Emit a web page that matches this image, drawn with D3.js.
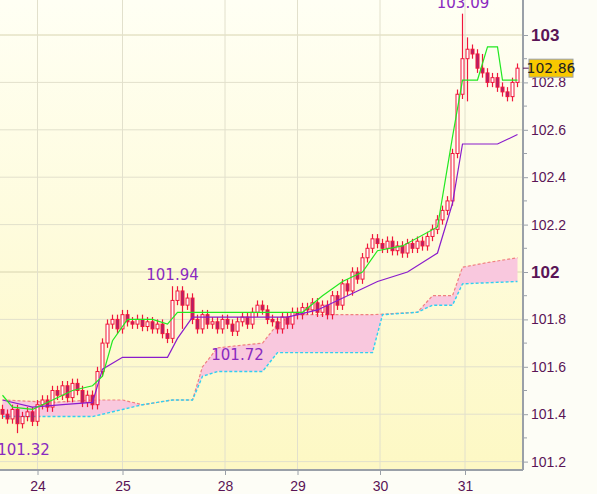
<!DOCTYPE html>
<html><head><meta charset="utf-8">
<script src="https://cdn.jsdelivr.net/npm/d3@7"></script>
<style>body{margin:0;background:#fff}svg{display:block;font-family:"DejaVu Sans",sans-serif}</style>
</head><body><svg id="c" width="597" height="494"></svg>
<script>
// closing prices, one per candle (open = previous close)
const closes = [101.40,101.38,101.42,101.36,101.39,101.41,101.37,
  101.44,101.46,101.43,101.50,101.48,101.52,101.47,101.53,101.50,101.45,101.48,
  101.44,101.58,101.70,101.78,
  101.80,101.76,101.82,101.79,101.78,101.80,101.77,101.79,101.76,101.78,101.74,101.72,
  101.88,101.92,101.86,101.89,
  101.80,101.76,101.82,101.78,101.79,101.76,101.80,101.78,101.75,101.79,101.81,101.78,101.83,101.86,101.84,101.80,101.79,101.76,101.81,101.78,
  101.83,101.82,101.85,101.84,101.87,101.83,101.86,101.82,
  101.90,101.86,101.95,101.92,102.00,101.97,102.06,102.10,
  102.14,102.12,102.10,102.13,102.09,102.11,102.08,102.12,102.10,102.13,102.11,102.15,102.18,
  102.22,102.26,102.30,102.50,
  102.75,102.90,102.94,102.92,102.86,
  102.84,102.80,102.82,102.78,102.76,102.74,102.80,102.86];
const firstOpen = 101.42;
const wick = 0.02;
const highOverrides = {34: 101.94, 92: 103.09, 93: 102.99, 96: 102.92};
const lowOverrides = {3: 101.32, 93: 102.72, 36: 101.76};

// indicator lines as [candle index, price]
const tenkan = [[0,101.48],[2,101.43],[6,101.42],[10,101.46],[14,101.50],[18,101.52],[20,101.56],[22,101.71],[25,101.80],[30,101.80],[33,101.78],[35,101.83],[40,101.83],[56,101.83],[60,101.83],[64,101.90],[68,101.96],[72,102.00],[75,102.09],[80,102.11],[87,102.19],[90,102.57],[92,102.81],[95,102.81],[97,102.95],[99,102.95],[100,102.81],[103,102.81]];
const kijun = [[0,101.46],[6,101.43],[12,101.44],[18,101.45],[20,101.59],[24,101.64],[33,101.64],[35,101.72],[38,101.81],[50,101.81],[57,101.81],[63,101.84],[67,101.88],[71,101.92],[75,101.96],[81,102.00],[87,102.08],[90,102.29],[92,102.54],[99,102.54],[101,102.56],[103,102.58]];
const spanA = [[0,101.46],[10,101.45],[18,101.46],[24,101.46],[28,101.44],[34,101.46],[38,101.46],[40,101.60],[43,101.68],[52,101.70],[55,101.78],[58,101.82],[74,101.82],[83,101.83],[86,101.90],[90,101.90],[92,102.02],[97,102.04],[103,102.06]];
const spanB = [[0,101.39],[18,101.39],[24,101.42],[28,101.44],[34,101.46],[38,101.46],[40,101.56],[43,101.58],[52,101.58],[55,101.66],[58,101.66],[74,101.66],[76,101.82],[83,101.83],[86,101.86],[90,101.86],[92,101.95],[103,101.96]];

const dayTicks = [[7,"24"],[24,"25"],[44.5,"28"],[59,"29"],[75.5,"30"],[92.5,"31"]];
const priceTicks = [101.2,101.4,101.6,101.8,102,102.2,102.4,102.6,102.8,103];
const marks = [[92.5,103.09,"103.09",-2,-6],[34,101.94,"101.94",0,-6],[47,101.72,"101.72",0,22],[3,101.32,"101.32",6,22]];
const lastPrice = 102.86;

const svg = d3.select("#c");
const W = 523, H = 470;
const x = d3.scaleLinear().domain([-0.5, 103.5]).range([0, 520]);
const y = d3.scaleLinear().domain([101.2, 103]).range([461.6, 35]);

const defs = svg.append("defs");
const g = defs.append("linearGradient").attr("id","bg").attr("x1",0).attr("x2",0).attr("y1",0).attr("y2",1);
g.append("stop").attr("offset","0%").attr("stop-color","#fffff4");
g.append("stop").attr("offset","100%").attr("stop-color","#fdf8c4");
svg.append("rect").attr("width",W).attr("height",H).attr("fill","url(#bg)");
svg.append("rect").attr("x",W).attr("width",597-W).attr("height",494).attr("fill","#fdfdf6");
svg.append("rect").attr("y",H).attr("width",W).attr("height",494-H).attr("fill","#fdfdf6");

// grid
svg.append("g").selectAll("line").data(priceTicks).join("line")
  .attr("x1",0).attr("x2",W).attr("y1",d=>y(d)).attr("y2",d=>y(d))
  .attr("stroke",d=>d===103||d===102?"#d8d4b0":"#e2e0cc").attr("stroke-width",1);
svg.append("g").selectAll("line").data(dayTicks).join("line")
  .attr("x1",d=>x(d[0])).attr("x2",d=>x(d[0])).attr("y1",0).attr("y2",H)
  .attr("stroke","#e2e0cc");

// cloud
const ia = d3.scaleLinear().domain(spanA.map(d=>d[0])).range(spanA.map(d=>d[1]));
const ib = d3.scaleLinear().domain(spanB.map(d=>d[0])).range(spanB.map(d=>d[1]));
const idx = Array.from(new Set([...spanA.map(d=>d[0]),...spanB.map(d=>d[0])])).sort((a,b)=>a-b);
svg.append("path").datum(idx)
  .attr("d", d3.area().x(i=>x(i)).y0(i=>y(ib(i))).y1(i=>y(ia(i))))
  .attr("fill","#f9c8de");
const ln = d3.line().x(d=>x(d[0])).y(d=>y(d[1]));
svg.append("path").attr("d",ln(spanA)).attr("fill","none").attr("stroke","#f08080").attr("stroke-dasharray","3,2").attr("stroke-width",1.2);
svg.append("path").attr("d",ln(spanB)).attr("fill","none").attr("stroke","#30d0f0").attr("stroke-dasharray","3,2").attr("stroke-width",1.4);

// candles
const candles = closes.map((c,i)=>{
  const o = i===0 ? firstOpen : closes[i-1];
  return {i,o,c,h: highOverrides[i] ?? Math.max(o,c)+wick, l: lowOverrides[i] ?? Math.min(o,c)-wick};
});
const cg = svg.append("g");
cg.selectAll("line").data(candles).join("line")
  .attr("x1",d=>x(d.i)).attr("x2",d=>x(d.i)).attr("y1",d=>y(d.h)).attr("y2",d=>y(d.l))
  .attr("stroke","#f0163c").attr("stroke-width",1.2);
cg.selectAll("rect").data(candles).join("rect")
  .attr("x",d=>x(d.i)-1.5).attr("width",3)
  .attr("y",d=>y(Math.max(d.o,d.c))).attr("height",d=>Math.max(1,Math.abs(y(d.o)-y(d.c))))
  .attr("fill",d=>d.c>=d.o?"#ffffff":"#b0206a").attr("stroke","#f0163c").attr("stroke-width",1);

svg.append("path").attr("d",ln(kijun)).attr("fill","none").attr("stroke","#8a1ccc").attr("stroke-width",1.2);
svg.append("path").attr("d",ln(tenkan)).attr("fill","none").attr("stroke","#22e822").attr("stroke-width",1.2);

// annotations
svg.append("g").selectAll("text").data(marks).join("text")
  .attr("x",d=>x(d[0])+d[3]).attr("y",d=>y(d[1])+d[4]).attr("text-anchor","middle")
  .attr("fill","#8a2ac0").attr("font-size",15).text(d=>d[2]);

// axes
svg.append("line").attr("x1",W).attr("x2",W).attr("y1",0).attr("y2",H).attr("stroke","#9aa0a8").attr("stroke-width",2);
svg.append("line").attr("x1",0).attr("x2",W).attr("y1",H).attr("y2",H).attr("stroke","#9aa0a8").attr("stroke-width",2);
const ya = svg.append("g").attr("transform",`translate(${W},0)`)
  .call(d3.axisRight(y).tickValues(priceTicks).tickSize(5).tickFormat(d=>d===102||d===103?d3.format("d")(d):d3.format(".1f")(d)));
ya.select(".domain").remove();
ya.selectAll("line").attr("stroke","#9aa0a8");
ya.selectAll("text").attr("fill","#5a1456").attr("font-size",d=>d===102||d===103?17:14)
  .attr("font-weight",d=>d===102||d===103?"bold":"normal").attr("x",8);
const minor = d3.range(101.3,103,0.2);
svg.append("g").selectAll("line").data(minor).join("line")
  .attr("x1",W).attr("x2",W+4).attr("y1",d=>y(d)).attr("y2",d=>y(d)).attr("stroke","#9aa0a8");
const xa = svg.append("g").attr("transform",`translate(0,${H})`)
  .call(d3.axisBottom(x).tickValues(dayTicks.map(d=>d[0])).tickSize(5).tickFormat((d,i)=>dayTicks[i][1]));
xa.select(".domain").remove();
xa.selectAll("line").attr("stroke","#9aa0a8");
xa.selectAll("text").attr("fill","#5a1456").attr("font-size",14).attr("dy","0.9em");

// last price tag
svg.append("line").attr("x1",W).attr("x2",W+6).attr("y1",y(lastPrice)).attr("y2",y(lastPrice)).attr("stroke","#5a1456");
svg.append("rect").attr("x",W+6).attr("y",y(lastPrice)-9).attr("width",44).attr("height",18)
  .attr("fill","#f8c800").attr("stroke","#9aa0a8");
svg.append("text").attr("x",W+28).attr("y",y(lastPrice)+5).attr("text-anchor","middle")
  .attr("font-size",14).attr("fill","#222").text(lastPrice.toFixed(2));
</script></body></html>
